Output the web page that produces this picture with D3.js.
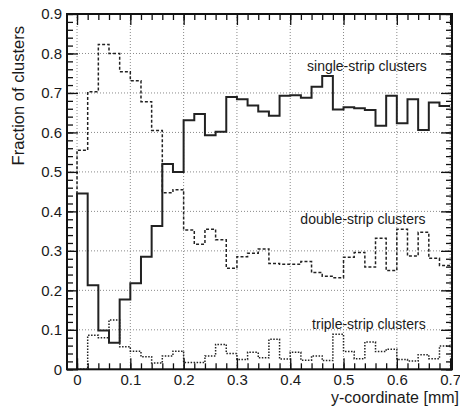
<!DOCTYPE html>
<html>
<head>
<meta charset="utf-8">
<script src="https://cdn.jsdelivr.net/npm/d3@7"></script>
<style>
  body { margin: 0; background: #fff; }
  text { font-family: "Liberation Sans", Arial, sans-serif; fill: #1a1a1a; }
</style>
</head>
<body>
<div id="chart"></div>
<script>
// histogram bins: 0 .. 0.70 mm in steps of 0.02 mm
const binWidth = 0.02;

// fraction of clusters per bin
const singleStrip = [0.445, 0.213, 0.098, 0.067, 0.177, 0.218, 0.285, 0.363, 0.520, 0.500,
                     0.631, 0.647, 0.593, 0.602, 0.690, 0.684, 0.668, 0.653, 0.642, 0.693,
                     0.694, 0.688, 0.716, 0.743, 0.658, 0.664, 0.661, 0.657, 0.617, 0.693,
                     0.623, 0.684, 0.606, 0.676, 0.667];
const doubleStrip = [0.555, 0.703, 0.823, 0.800, 0.754, 0.731, 0.678, 0.605, 0.447, 0.455,
                     0.353, 0.317, 0.355, 0.328, 0.256, 0.285, 0.294, 0.305, 0.268, 0.266,
                     0.266, 0.273, 0.245, 0.236, 0.232, 0.284, 0.296, 0.259, 0.332, 0.250,
                     0.355, 0.287, 0.347, 0.281, 0.263];
const tripleStrip = [0.000, 0.086, 0.080, 0.125, 0.057, 0.046, 0.032, 0.016, 0.034, 0.046,
                     0.017, 0.017, 0.034, 0.063, 0.040, 0.025, 0.043, 0.029, 0.076, 0.026,
                     0.043, 0.023, 0.034, 0.022, 0.089, 0.045, 0.027, 0.069, 0.045, 0.051,
                     0.025, 0.021, 0.037, 0.027, 0.059];

const xTicks = [0, 0.1, 0.2, 0.3, 0.4, 0.5, 0.6, 0.7];
const xTickLabels = ["0", "0.1", "0.2", "0.3", "0.4", "0.5", "0.6", "0.7"];
const yTicks = [0, 0.1, 0.2, 0.3, 0.4, 0.5, 0.6, 0.7, 0.8, 0.9];
const yTickLabels = ["0", "0.1", "0.2", "0.3", "0.4", "0.5", "0.6", "0.7", "0.8", "0.9"];
const seriesNames = ["single-strip clusters", "double-strip clusters", "triple-strip clusters"];
const xTitle = "y-coordinate [mm]";
const yTitle = "Fraction of clusters";

const width = 460, height = 410;
const frame = {left: 67, right: 452, top: 14, bottom: 369.3};

const x = d3.scaleLinear().domain([-0.0188, 0.7035]).range([frame.left, frame.right]);
const y = d3.scaleLinear().domain([0, 0.9]).range([frame.bottom, frame.top]);

const svg = d3.select("#chart").append("svg")
    .attr("width", width)
    .attr("height", height);

// grid
const grid = svg.append("g")
    .attr("stroke", "#8a8a8a")
    .attr("stroke-width", 1)
    .attr("stroke-dasharray", "1,2");
grid.selectAll(".gx").data(xTicks).join("line")
    .attr("x1", d => x(d)).attr("x2", d => x(d))
    .attr("y1", frame.top).attr("y2", frame.bottom);
grid.selectAll(".gy").data(yTicks.slice(1, -1)).join("line")
    .attr("x1", frame.left).attr("x2", frame.right)
    .attr("y1", d => y(d)).attr("y2", d => y(d));

// histograms as steps
const stepLine = d3.line()
    .x(d => x(d[0]))
    .y(d => y(d[1]))
    .curve(d3.curveStepAfter);

const toSteps = vals => {
    const pts = [[0, 0]];
    vals.forEach((v, i) => pts.push([i * binWidth, v]));
    pts.push([vals.length * binWidth, vals[vals.length - 1]]);
    return pts;
};

const plot = svg.append("g");
plot.append("path")
    .attr("d", stepLine(toSteps(tripleStrip)))
    .attr("fill", "none").attr("stroke", "#222")
    .attr("stroke-width", 1.5).attr("stroke-dasharray", "1.5,1.5");
plot.append("path")
    .attr("d", stepLine(toSteps(doubleStrip)))
    .attr("fill", "none").attr("stroke", "#222")
    .attr("stroke-width", 1.5).attr("stroke-dasharray", "3,2");
plot.append("path")
    .attr("d", stepLine(toSteps(singleStrip)))
    .attr("fill", "none").attr("stroke", "#222")
    .attr("stroke-width", 2);

// axes, ROOT style: ticks inside the frame on all four sides
const minorX = d3.range(0, 0.7001, 0.02);
const minorY = d3.range(0, 0.9001, 0.02);

const addAxis = (axis, transform) => {
    const g = svg.append("g").attr("transform", transform).call(axis);
    g.select(".domain").remove();
    g.selectAll(".tick line").attr("stroke", "#111").attr("stroke-width", 1.3);
    return g;
};

addAxis(d3.axisBottom(x).tickValues(minorX).tickSize(-6).tickFormat(""), `translate(0,${frame.bottom})`);
addAxis(d3.axisTop(x).tickValues(minorX).tickSize(-6).tickFormat(""), `translate(0,${frame.top})`);
addAxis(d3.axisLeft(y).tickValues(minorY).tickSize(-6).tickFormat(""), `translate(${frame.left},0)`);
addAxis(d3.axisRight(y).tickValues(minorY).tickSize(-6).tickFormat(""), `translate(${frame.right},0)`);

const xb = addAxis(d3.axisBottom(x).tickValues(xTicks).tickSize(-11).tickPadding(5)
    .tickFormat((d, i) => xTickLabels[i]), `translate(0,${frame.bottom})`);
addAxis(d3.axisTop(x).tickValues(xTicks).tickSize(-11).tickFormat(""), `translate(0,${frame.top})`);
const yl = addAxis(d3.axisLeft(y).tickValues(yTicks).tickSize(-11).tickPadding(5)
    .tickFormat((d, i) => yTickLabels[i]), `translate(${frame.left},0)`);
addAxis(d3.axisRight(y).tickValues(yTicks).tickSize(-11).tickFormat(""), `translate(${frame.right},0)`);

xb.selectAll(".tick text").attr("font-size", 15).attr("font-family", null).attr("fill", null);
yl.selectAll(".tick text").attr("font-size", 15).attr("font-family", null).attr("fill", null);

// frame
svg.append("rect")
    .attr("x", frame.left).attr("y", frame.top)
    .attr("width", frame.right - frame.left)
    .attr("height", frame.bottom - frame.top)
    .attr("fill", "none").attr("stroke", "#111").attr("stroke-width", 2);

// titles
svg.append("text")
    .attr("x", 459).attr("y", 403)
    .attr("text-anchor", "end").attr("font-size", 16)
    .text(xTitle);
svg.append("text")
    .attr("transform", "translate(24,26) rotate(-90)")
    .attr("text-anchor", "end").attr("font-size", 16.5)
    .text(yTitle);

// series labels
const labelPos = [[0.4315, 0.7556], [0.419, 0.3685], [0.441, 0.101]];
svg.append("g").selectAll("text").data(seriesNames).join("text")
    .attr("x", (d, i) => x(labelPos[i][0]))
    .attr("y", (d, i) => y(labelPos[i][1]))
    .attr("font-size", 14)
    .text(d => d);
</script>
</body>
</html>
